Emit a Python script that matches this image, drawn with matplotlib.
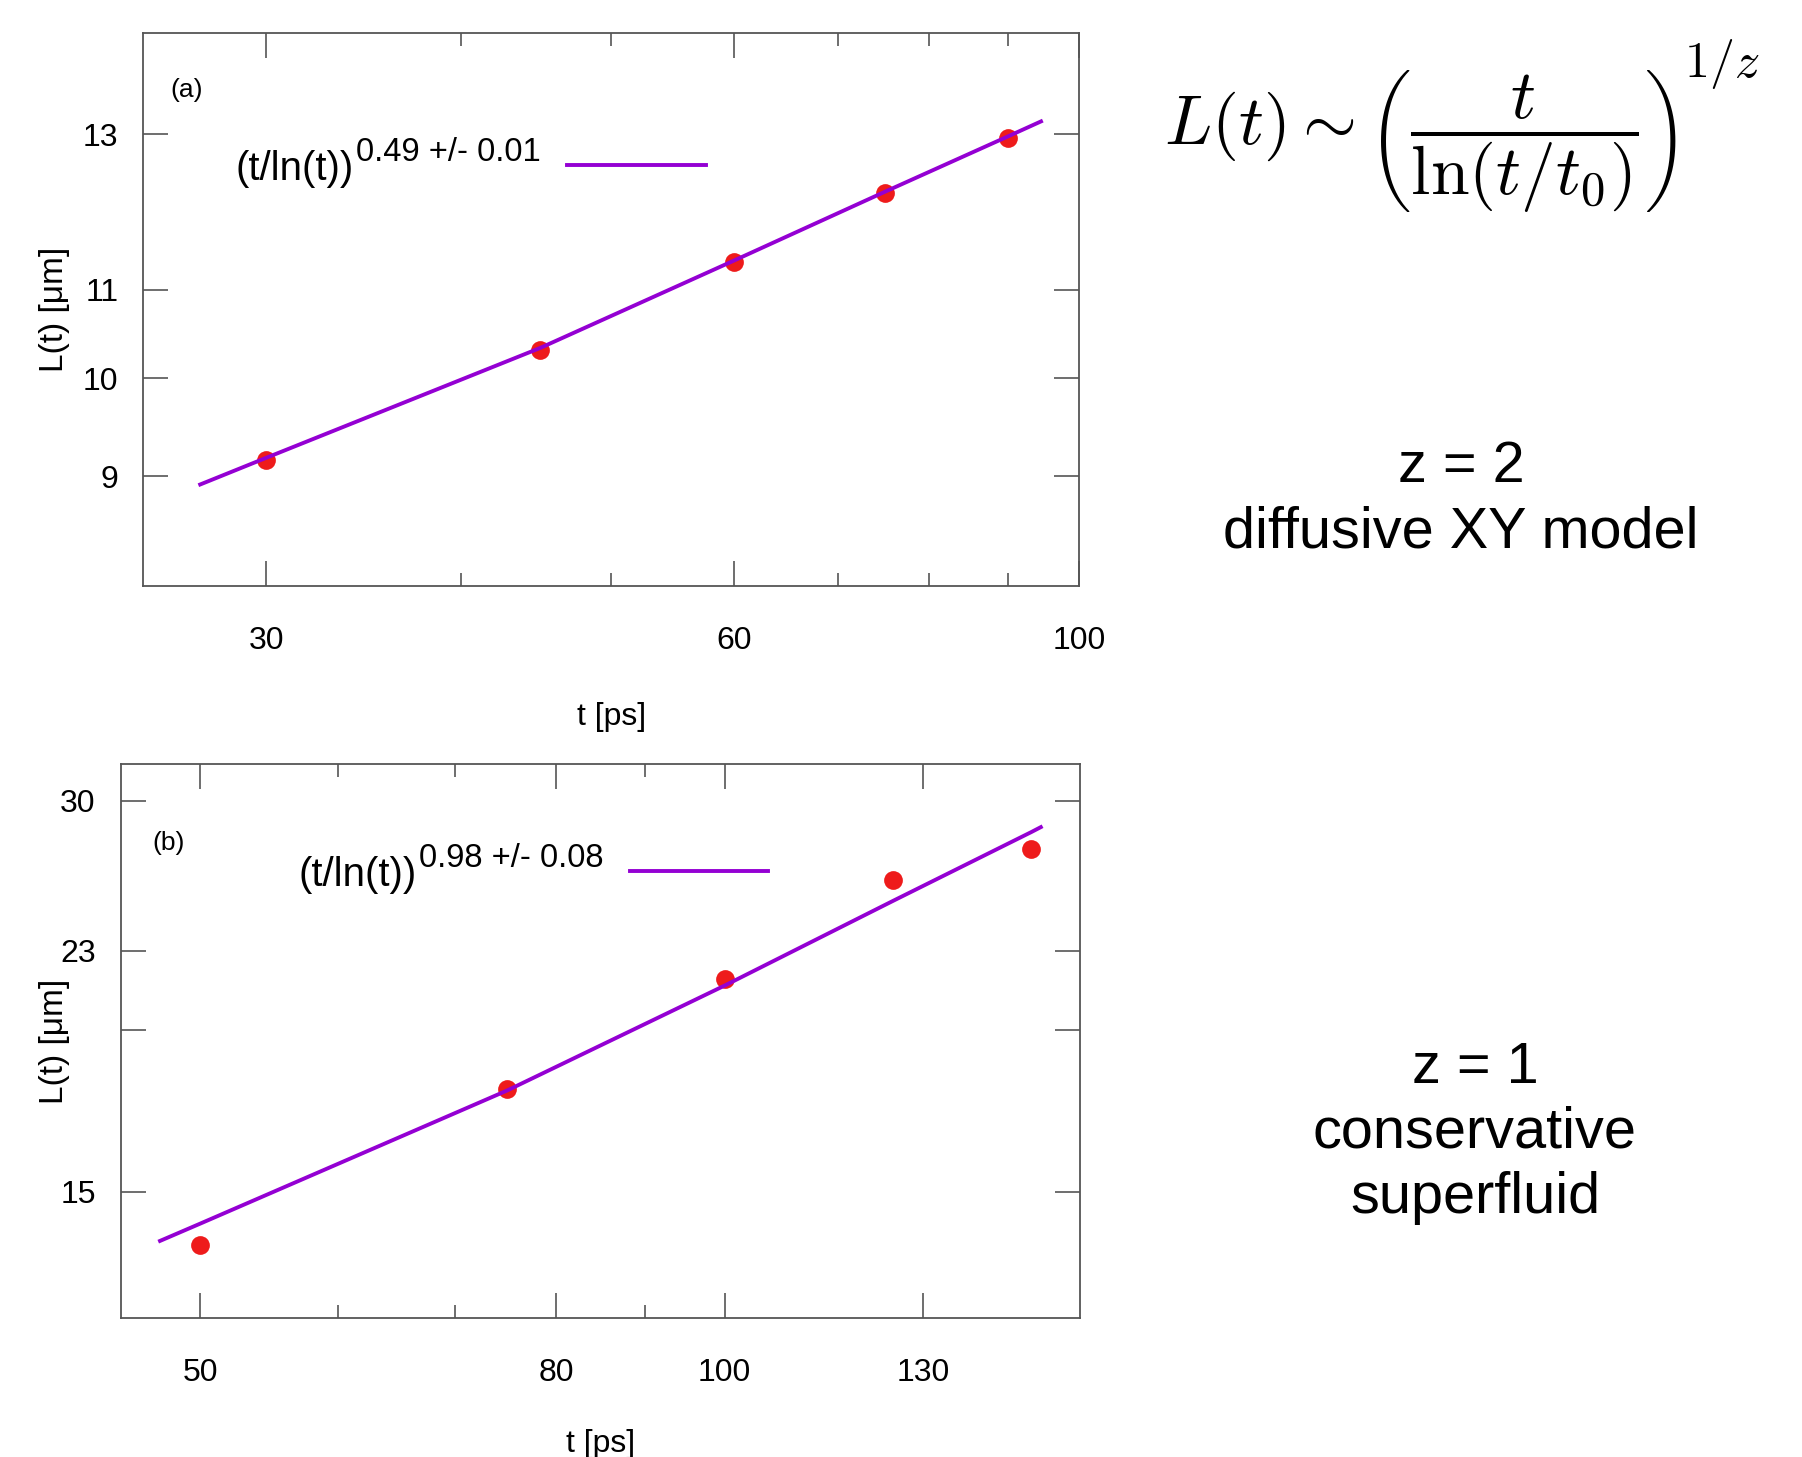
import matplotlib
matplotlib.use("Agg")
import matplotlib.pyplot as plt
from matplotlib.ticker import FixedLocator, FixedFormatter, NullFormatter, NullLocator

plt.rcParams.update({
    "font.family": "Liberation Sans",
    "mathtext.fontset": "cm",
})

PURPLE = "#9400d3"
RED = "#ee1b1b"
FRAME = "#555555"

# panel (a): diffusive XY model, z = 2
t_a = [30, 45, 60, 75, 90]
L_a = [9.16, 10.31, 11.33, 12.20, 12.94]
fit_t_a = [27.2, 30, 45, 60, 75, 90, 94.5]
fit_L_a = [8.92, 9.18, 10.33, 11.35, 12.22, 12.97, 13.18]
xmaj_a = [30, 60, 100]
xmin_a = [40, 50, 70, 80, 90]
ymaj_a = [9, 10, 11, 13]
ylab_a = ["9", "10", "11", "13"]

# panel (b): conservative superfluid, z = 1
t_b = [50, 75, 100, 125, 150]
L_b = [13.66, 17.99, 21.88, 26.07, 27.54]
fit_t_b = [47.4, 50, 75, 100, 125, 150, 151.9]
fit_L_b = [13.75, 14.18, 17.95, 21.62, 25.13, 28.38, 28.63]
xmaj_b = [50, 80, 100, 130]
xmin_b = [60, 70, 90]
ymaj_b = [15, 20, 23, 30]
ylab_b = ["15", "", "23", "30"]

fig = plt.figure(figsize=(18.02, 14.57), dpi=100)
axA = fig.add_axes([0.0795, 0.5980, 0.5194, 0.3796])
axB = fig.add_axes([0.0670, 0.0956, 0.5324, 0.3798])


def style(ax, xlim, ylim, xmaj, xmin, ymaj, ylab, ylab_x, xpad):
    ax.set_xscale("log")
    ax.set_yscale("log")
    ax.set_xlim(*xlim)
    ax.set_ylim(*ylim)
    ax.xaxis.set_major_locator(FixedLocator(xmaj))
    ax.xaxis.set_major_formatter(FixedFormatter([str(v) for v in xmaj]))
    ax.xaxis.set_minor_locator(FixedLocator(xmin))
    ax.xaxis.set_minor_formatter(NullFormatter())
    ax.yaxis.set_major_locator(FixedLocator(ymaj))
    ax.yaxis.set_major_formatter(FixedFormatter(ylab))
    ax.yaxis.set_minor_locator(NullLocator())
    ax.tick_params(which="both", direction="in", top=True, right=True,
                   color=FRAME, width=1.2, labelsize=23)
    ax.tick_params(which="major", length=18)
    ax.tick_params(which="minor", length=9.5)
    ax.tick_params(axis="x", which="both", pad=29.3)
    ax.tick_params(axis="y", which="both", pad=18)
    for s in ax.spines.values():
        s.set_color(FRAME)
        s.set_linewidth(1.3)
    ax.set_xlabel("t [ps]", fontsize=23, labelpad=xpad)
    ax.set_ylabel("L(t) [μm]", fontsize=24, va="center")
    ax.yaxis.set_label_coords(ylab_x, 0.5)


def legend(ax, x1, y1, x2, y2, sup, lx0, lx1, ly):
    ax.text(x1, y1, "(t/ln(t))", transform=ax.transAxes, fontsize=29, va="baseline")
    ax.text(x2, y2, sup, transform=ax.transAxes, fontsize=23.5, va="baseline")
    ax.plot([lx0, lx1], [ly, ly], color=PURPLE, lw=2.8, transform=ax.transAxes)


style(axA, (25, 100), (8, 14.5), xmaj_a, xmin_a, ymaj_a, ylab_a, -0.095, 33)
axA.plot(t_a, L_a, "o", color=RED, ms=13.5, mec="none", zorder=2)
axA.plot(fit_t_a, fit_L_a, color=PURPLE, lw=2.8, zorder=3)
axA.text(0.029, 0.884, "(a)", transform=axA.transAxes, fontsize=19, va="baseline")
legend(axA, 0.0987, 0.7336, 0.2272, 0.7675, "0.49 +/- 0.01", 0.4527, 0.6009, 0.7608)

style(axB, (45, 160), (12, 32), xmaj_b, xmin_b, ymaj_b, ylab_b, -0.0691, 29)
axB.plot(t_b, L_b, "o", color=RED, ms=13.5, mec="none", zorder=2)
axB.plot(fit_t_b, fit_L_b, color=PURPLE, lw=2.8, zorder=3)
axB.text(0.0335, 0.845, "(b)", transform=axB.transAxes, fontsize=19, va="baseline")
legend(axB, 0.1848, 0.780, 0.3107, 0.815, "0.98 +/- 0.08", 0.5309, 0.6751, 0.807)

# right-hand annotations
fig.text(0.7886, 0.9032, r"$L(t)\sim\left(\dfrac{t}{\ln(t/t_0)}\right)$",
         fontsize=50, ha="center", va="center")
fig.text(0.9555, 1 - 64 / 1457, r"$1/z$", fontsize=36, ha="center", va="center")
fig.text(0.8108, 0.6694, "z = 2", fontsize=41.5, ha="center", va="baseline")
fig.text(0.8108, 0.6241, "diffusive XY model", fontsize=41.5, ha="center", va="baseline")
fig.text(0.8185, 1 - 1082.7 / 1457, "z = 1", fontsize=41.5, ha="center", va="baseline")
fig.text(0.8185, 1 - 1147.7 / 1457, "conservative", fontsize=41.5, ha="center", va="baseline")
fig.text(0.8185, 1 - 1212.7 / 1457, "superfluid", fontsize=41.5, ha="center", va="baseline")

fig.savefig("out.png", dpi=100, facecolor="white")
